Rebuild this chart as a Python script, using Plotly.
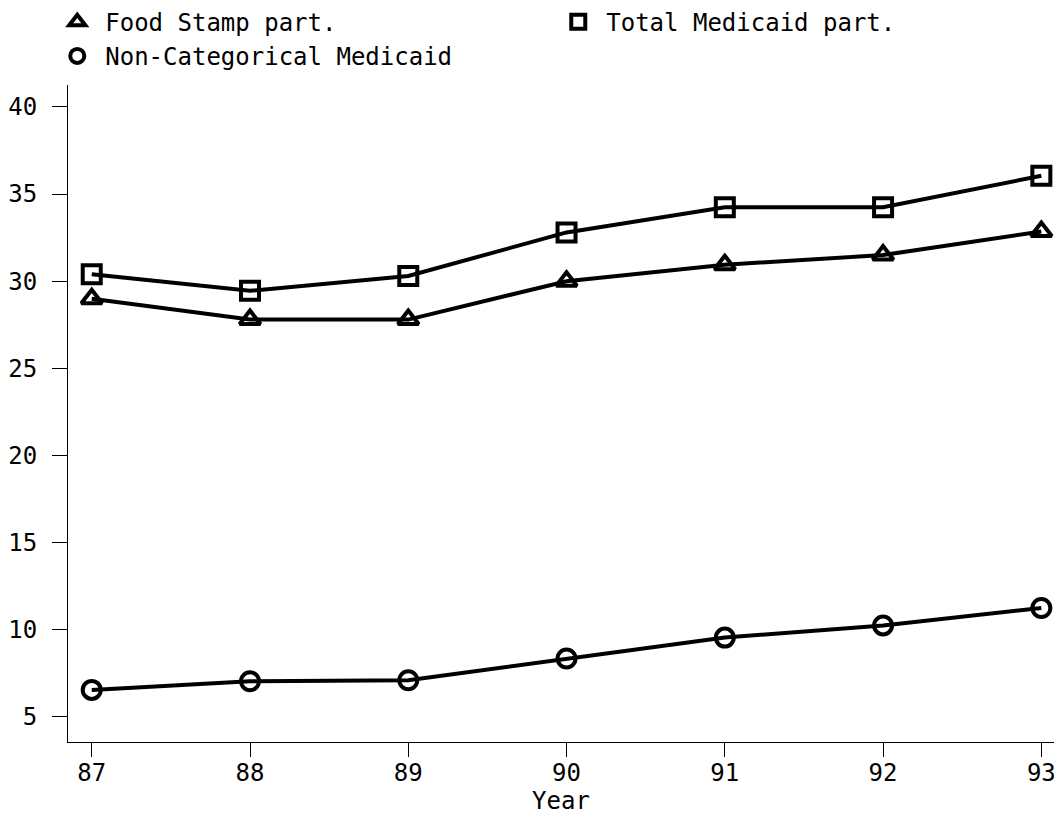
import plotly.graph_objects as go

years = [87, 88, 89, 90, 91, 92, 93]
food_stamp = [29.0, 27.8, 27.8, 30.0, 30.95, 31.5, 32.85]
total_medicaid = [30.4, 29.45, 30.3, 32.8, 34.25, 34.25, 36.05]
non_categorical = [6.55, 7.05, 7.1, 8.35, 9.55, 10.25, 11.25]
y_ticks = [5, 10, 15, 20, 25, 30, 35, 40]

FONT = "DejaVu Sans Mono"
LW = 4
MS = 18

series = [
    ("Food Stamp part.", food_stamp, "triangle-up-open", "triangle-up"),
    ("Total Medicaid part.", total_medicaid, "square-open", "square"),
    ("Non-Categorical Medicaid", non_categorical, "circle-open", "circle"),
]

fig = go.Figure()
for name, vals, sym, _ in series:
    fig.add_trace(go.Scatter(
        x=years, y=vals, mode="lines+markers", showlegend=False,
        line=dict(color="black", width=LW),
        marker=dict(symbol=sym, size=MS, color="black", line=dict(color="black", width=LW)),
    ))
for name, vals, _, lsym in series:
    fig.add_trace(go.Scatter(
        x=[None], y=[None], mode="markers", name=name,
        marker=dict(symbol=lsym, size=14, color="white", line=dict(color="black", width=4)),
    ))

fig.update_layout(
    width=1062, height=817,
    margin=dict(l=60, r=16, t=77, b=83, autoexpand=False),
    paper_bgcolor="white", plot_bgcolor="white",
    font=dict(family=FONT, size=22, color="black"),
    legend=dict(
        orientation="h", x=-0.019, xanchor="left", y=1.13, yanchor="top",
        entrywidth=440, entrywidthmode="pixels", itemwidth=46,
        font=dict(family=FONT, size=24, color="black"),
        tracegroupgap=0, itemsizing="trace",
    ),
    xaxis=dict(
        range=[86.85, 93.08], tickvals=years, ticktext=[str(y) for y in years],
        showgrid=False, zeroline=False, showline=True, linecolor="black", linewidth=1,
        ticks="outside", ticklen=14, tickcolor="black", tickwidth=1,
        tickfont=dict(family=FONT, size=24), ticklabelstandoff=-5,
        title=dict(text="Year", font=dict(family=FONT, size=24), standoff=0),
    ),
    yaxis=dict(
        range=[3.56, 41.26], tickvals=y_ticks,
        showgrid=False, zeroline=False, showline=True, linecolor="black", linewidth=1,
        ticks="outside", ticklen=15, tickcolor="black", tickwidth=1,
        tickfont=dict(family=FONT, size=24), ticklabelstandoff=10,
    ),
)

fig.write_html("out.html")
